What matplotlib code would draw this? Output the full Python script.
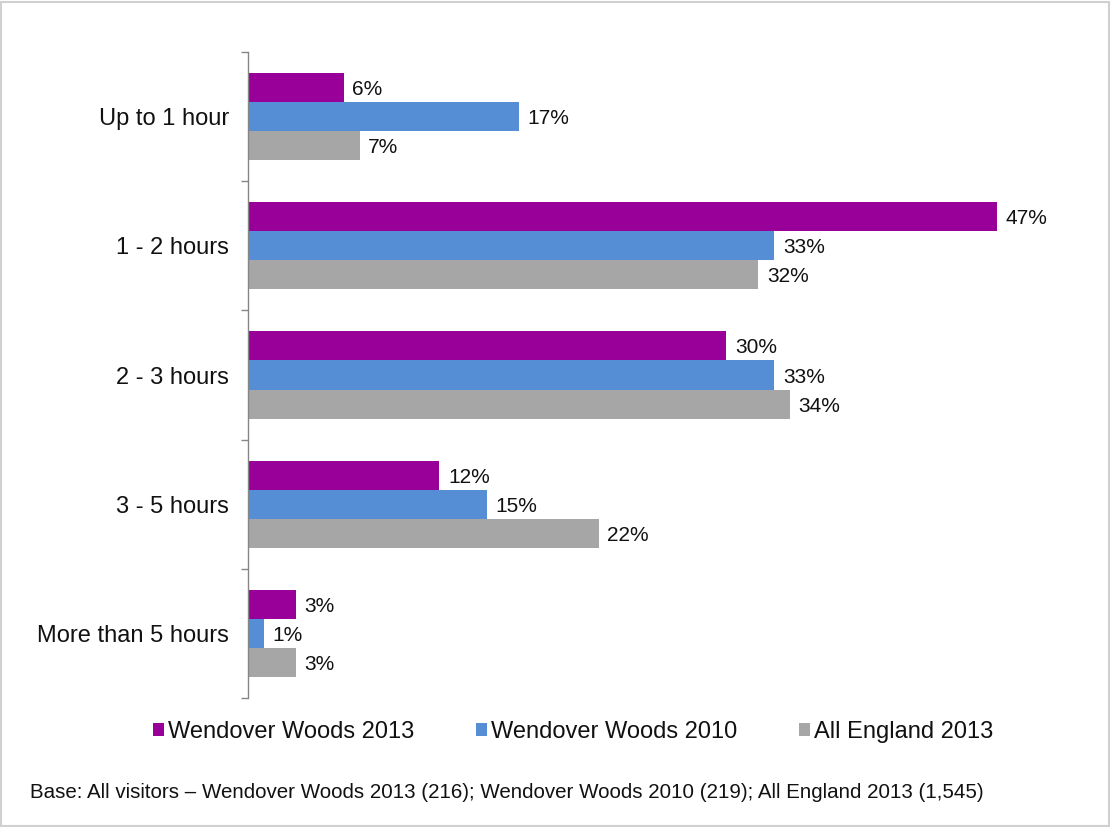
import numpy as np
import matplotlib
matplotlib.use("Agg")
import matplotlib.pyplot as plt
from matplotlib.patches import Rectangle

plt.rcParams['font.family'] = ['Liberation Sans', 'DejaVu Sans']

# Visit duration by group (percent of visitors)
categories = ['Up to 1 hour', '1 - 2 hours', '2 - 3 hours', '3 - 5 hours', 'More than 5 hours']
series_names = ['Wendover Woods 2013', 'Wendover Woods 2010', 'All England 2013']
ww_2013 = [6, 47, 30, 12, 3]
ww_2010 = [17, 33, 33, 15, 1]
england_2013 = [7, 32, 34, 22, 3]
series_colors = ['#990099', '#558ED5', '#A6A6A6']
footnote = ('Base: All visitors \u2013 Wendover Woods 2013 (216); '
            'Wendover Woods 2010 (219); All England 2013 (1,545)')

fig = plt.figure(figsize=(11.11, 8.27), dpi=100)
ax = fig.add_axes([0.2232, 0.1560, 0.7174, 0.7811])

y = np.arange(len(categories))
h = 0.225
for k, (vals, name, col) in enumerate(zip([ww_2013, ww_2010, england_2013],
                                          series_names, series_colors)):
    pos = y + (k - 1) * h
    ax.barh(pos, vals, height=h, color=col, label=name)
    for yy, v in zip(pos, vals):
        ax.annotate(f'{v}%', (v, yy), xytext=(6.3, 0), textcoords='offset points',
                    ha='left', va='center_baseline', fontsize=15, color='#111111')

ax.set_xlim(0, 50)
ax.set_ylim(len(categories) - 0.5, -0.5)

ax.set_yticks(y)
ax.set_yticklabels(categories, fontsize=17, color='#111111')
ax.set_yticks(np.arange(-0.5, len(categories)), minor=True)
ax.tick_params(axis='y', which='major', length=0, pad=13.7)
ax.tick_params(axis='y', which='minor', length=5, width=1, color='#868686', direction='out')
ax.set_xticks([])

for s in ['top', 'right', 'bottom']:
    ax.spines[s].set_visible(False)
ax.spines['left'].set_color('#868686')
ax.spines['left'].set_linewidth(1)

leg = fig.legend(loc='center', bbox_to_anchor=(0.516, 1 - 732 / 827), ncol=3,
                 frameon=False, fontsize=17, handlelength=0.45, handleheight=0.45,
                 handletextpad=0.2, columnspacing=2.6, borderaxespad=0)
for t in leg.get_texts():
    t.set_color('#111111')

fig.text(30 / 1111, 1 - 792 / 827, footnote, fontsize=14.8, ha='left', va='center',
         color='#111111')

# light grey border round the whole chart area
fig.patches.append(Rectangle((0.0009, 0.0012), 0.9972, 0.9964, transform=fig.transFigure,
                             fill=False, edgecolor='#D0D0D0', linewidth=1.5))

fig.savefig('out.png', dpi=100)
